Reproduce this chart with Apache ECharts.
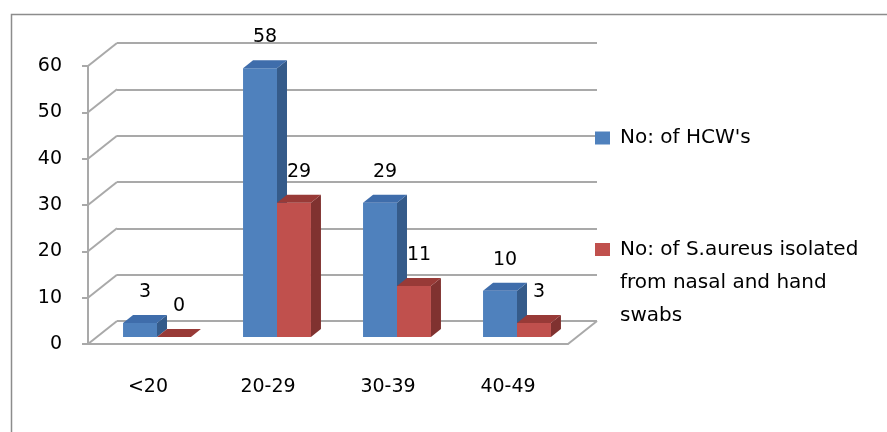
<!DOCTYPE html>
<html>
<head>
<meta charset="utf-8">
<script src="https://cdn.jsdelivr.net/npm/echarts@6/dist/echarts.min.js"></script>
<style>
  html, body { margin: 0; padding: 0; background: #fff; }
  #chart { width: 887px; height: 432px; }
</style>
</head>
<body>
<div id="chart"></div>
<script>
// data
var categories = ['<20', '20-29', '30-39', '40-49'];
var seriesNames = ["No: of HCW's", 'No: of S.aureus isolated from nasal and hand swabs'];
var hcwValues = [3, 58, 29, 10];
var saureusValues = [0, 29, 11, 3];
var yTicks = [0, 10, 20, 30, 40, 50, 60];

// 3d look
var WALL_DX = 29, WALL_DY = -23;   // depth of the floor / side wall
var PLANE_DX = 9, PLANE_DY = -7;   // where the bars stand
var DEPTH_DX = 10, DEPTH_DY = -8;  // depth of one bar
var FONT = 'DejaVu Sans';
var GRID_COLOR = '#a9a9a9';

var colors = [
  { front: '#4f81bd', top: '#3f6dab', side: '#355b8a' },
  { front: '#c0504d', top: '#983a37', side: '#803230' }
];

function bar3d (idx) {
  var c = colors[idx];
  return function (params, api) {
    var i = api.value(0);
    var v = api.value(1);
    var base = api.coord([i, 0]);
    var top = api.coord([i, v]);
    var w = api.size([1, 0])[0] * 0.283;
    var x0 = base[0] + PLANE_DX - (idx === 0 ? w : 0);
    var yb = base[1] + PLANE_DY;
    var yt = top[1] + PLANE_DY;
    var x1 = x0 + w;
    var children = [];
    if (yb - yt > 0.5) {
      children.push({
        type: 'rect',
        shape: { x: x0, y: yt, width: w, height: yb - yt },
        style: { fill: c.front }
      });
      children.push({
        type: 'polygon',
        shape: { points: [[x1, yt], [x1 + DEPTH_DX, yt + DEPTH_DY], [x1 + DEPTH_DX, yb + DEPTH_DY], [x1, yb]] },
        style: { fill: c.side }
      });
    }
    children.push({
      type: 'polygon',
      shape: { points: [[x0, yt], [x1, yt], [x1 + DEPTH_DX, yt + DEPTH_DY], [x0 + DEPTH_DX, yt + DEPTH_DY]] },
      style: { fill: c.top }
    });
    children.push({
      type: 'text',
      style: {
        text: String(v),
        x: x0 + w / 2 + 5,
        y: yt - 31,
        align: 'center',
        verticalAlign: 'middle',
        fill: '#000',
        font: '19px "' + FONT + '"'
      }
    });
    return { type: 'group', children: children };
  }
}

function sideWall (params, api) {
  var v = api.value(1);
  var bw = api.size([1, 0])[0];
  var p = api.coord([0, v]);
  var left = p[0] - bw / 2;
  var style = { stroke: GRID_COLOR, lineWidth: 2 };
  var children = [{
    type: 'line',
    shape: { x1: left, y1: p[1], x2: left + WALL_DX, y2: p[1] + WALL_DY },
    style: style
  }];
  if (v === 0) {
    var q = api.coord([categories.length - 1, 0]);
    var right = q[0] + bw / 2;
    children.push({
      type: 'line',
      shape: { x1: right, y1: q[1], x2: right + WALL_DX, y2: q[1] + WALL_DY },
      style: style
    });
  }
  return { type: 'group', children: children };
}

var chart = echarts.init(document.getElementById('chart'));
var yMax = yTicks[yTicks.length - 1];
var yStep = yTicks[1] - yTicks[0];

var option = {
  animation: false,
  backgroundColor: '#fff',
  textStyle: { fontFamily: FONT },
  graphic: [{
    type: 'rect',
    left: 9,
    top: 12,
    shape: { width: 1000, height: 1000 },
    style: { fill: 'none', stroke: '#8c8c8c', lineWidth: 1.5 },
    z: 0
  }],
  grid: [
    { left: 88, right: 319, top: 66, bottom: 88 },
    { left: 88 + WALL_DX, right: 319 - WALL_DX, top: 66 + WALL_DY, bottom: 88 - WALL_DY }
  ],
  xAxis: [{
    type: 'category',
    gridIndex: 0,
    data: categories,
    axisLine: { lineStyle: { color: GRID_COLOR, width: 2 } },
    axisTick: { length: 9, lineStyle: { color: GRID_COLOR, width: 2 } },
    axisLabel: { color: '#000', fontSize: 19, fontFamily: FONT, margin: 34 }
  }, {
    type: 'category',
    gridIndex: 1,
    data: categories,
    show: false
  }],
  yAxis: [{
    type: 'value',
    gridIndex: 0,
    min: yTicks[0],
    max: yMax,
    interval: yStep,
    axisLine: { show: true, lineStyle: { color: GRID_COLOR, width: 2 } },
    axisTick: { show: true, length: 6, lineStyle: { color: GRID_COLOR, width: 2 } },
    splitLine: { show: false },
    axisLabel: { color: '#000', fontSize: 19, fontFamily: FONT, margin: 26 }
  }, {
    type: 'value',
    gridIndex: 1,
    min: yTicks[0],
    max: yMax,
    interval: yStep,
    axisLine: { show: false },
    axisTick: { show: false },
    axisLabel: { show: false },
    splitLine: { show: true, lineStyle: { color: GRID_COLOR, width: 2 } }
  }],
  legend: {
    orient: 'vertical',
    left: 595,
    top: 126,
    padding: 0,
    itemGap: 17,
    itemWidth: 15,
    itemHeight: 13,
    icon: 'rect',
    selectedMode: false,
    textStyle: { color: '#000', fontSize: 20, fontFamily: FONT, padding: [0, 0, 0, 5] },
    formatter: function (name) {
      // two blank lines so the first text line sits beside the marker
      return name === seriesNames[1] ? '\n\nNo: of S.aureus isolated\nfrom nasal and hand\nswabs' : name;
    },
    data: [
      { name: seriesNames[0], textStyle: { lineHeight: 24 } },
      { name: seriesNames[1], textStyle: { lineHeight: 33 } }
    ]
  },
  series: [{
    type: 'custom',
    xAxisIndex: 0,
    yAxisIndex: 0,
    silent: true,
    z: 1,
    renderItem: sideWall,
    data: yTicks.map(function (v) { return [0, v]; })
  }, {
    name: seriesNames[0],
    type: 'custom',
    xAxisIndex: 0,
    yAxisIndex: 0,
    z: 3,
    itemStyle: { color: colors[0].front },
    renderItem: bar3d(0),
    data: hcwValues.map(function (v, i) { return [i, v]; })
  }, {
    name: seriesNames[1],
    type: 'custom',
    xAxisIndex: 0,
    yAxisIndex: 0,
    z: 4,
    itemStyle: { color: colors[1].front },
    renderItem: bar3d(1),
    data: saureusValues.map(function (v, i) { return [i, v]; })
  }]
};

chart.setOption(option);
window.addEventListener('resize', function () {
  chart.resize();
});
</script>
</body>
</html>
